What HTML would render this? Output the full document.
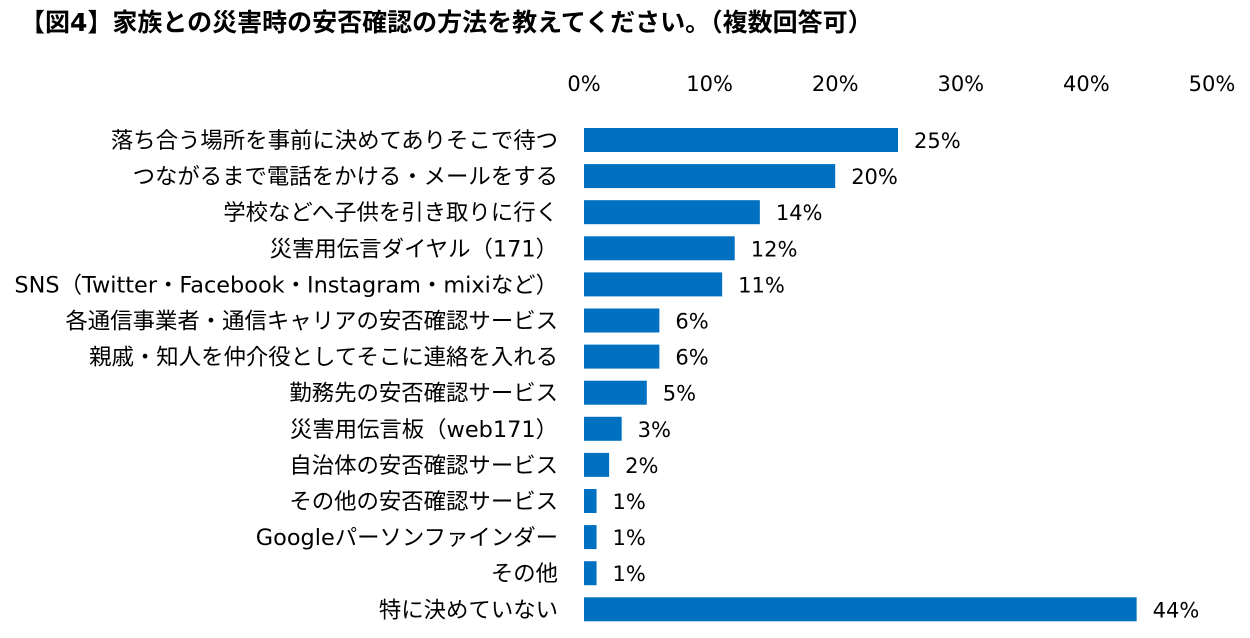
<!DOCTYPE html>
<html><head><meta charset="utf-8"><style>
body{margin:0;background:#fff;width:1250px;height:634px;overflow:hidden;font-family:"DejaVu Sans","Noto Sans CJK JP",sans-serif;}
svg text{font-family:"DejaVu Sans","Noto Sans CJK JP",sans-serif;}
</style></head><body>
<svg width="1250" height="634">
<text x="20" y="31" font-size="25" font-weight="bold" fill="#000">【図4】家族との災害時の安否確認の方法を教えてください。（複数回答可）</text>
<g id="ticks"></g><g id="bars"></g>
</svg>
<script>
const categories=["落ち合う場所を事前に決めてありそこで待つ","つながるまで電話をかける・メールをする","学校などへ子供を引き取りに行く","災害用伝言ダイヤル（171）","SNS（Twitter・Facebook・Instagram・mixiなど）","各通信事業者・通信キャリアの安否確認サービス","親戚・知人を仲介役としてそこに連絡を入れる","勤務先の安否確認サービス","災害用伝言板（web171）","自治体の安否確認サービス","その他の安否確認サービス","Googleパーソンファインダー","その他","特に決めていない"];
const values=[25,20,14,12,11,6,6,5,3,2,1,1,1,44];
const tickValues=[0,10,20,30,40,50];
const NS="http://www.w3.org/2000/svg";
const x=v=>584+v*12.56;
const y=i=>128+i*36.1;
const tg=document.getElementById('ticks'),bg=document.getElementById('bars');
function mk(t,a,p){const e=document.createElementNS(NS,t);for(const k in a)e.setAttribute(k,a[k]);p.appendChild(e);return e;}
tickValues.forEach(v=>{const t=mk('text',{x:x(v),y:91,'font-size':21,'text-anchor':'middle',fill:'#000'},tg);t.textContent=v+'%';

});
categories.forEach((c,i)=>{
const l=mk('text',{x:558,y:y(i)+20,'font-size':22.4,'text-anchor':'end',fill:'#000'},bg);l.textContent=c;


const r=mk('rect',{x:x(0),y:y(i),width:x(values[i])-x(0),height:24,fill:'#0070C0'},bg);


const v=mk('text',{x:x(values[i])+16,y:y(i)+20,'font-size':21,fill:'#000'},bg);v.textContent=values[i]+'%';


});
</script>
</body></html>
